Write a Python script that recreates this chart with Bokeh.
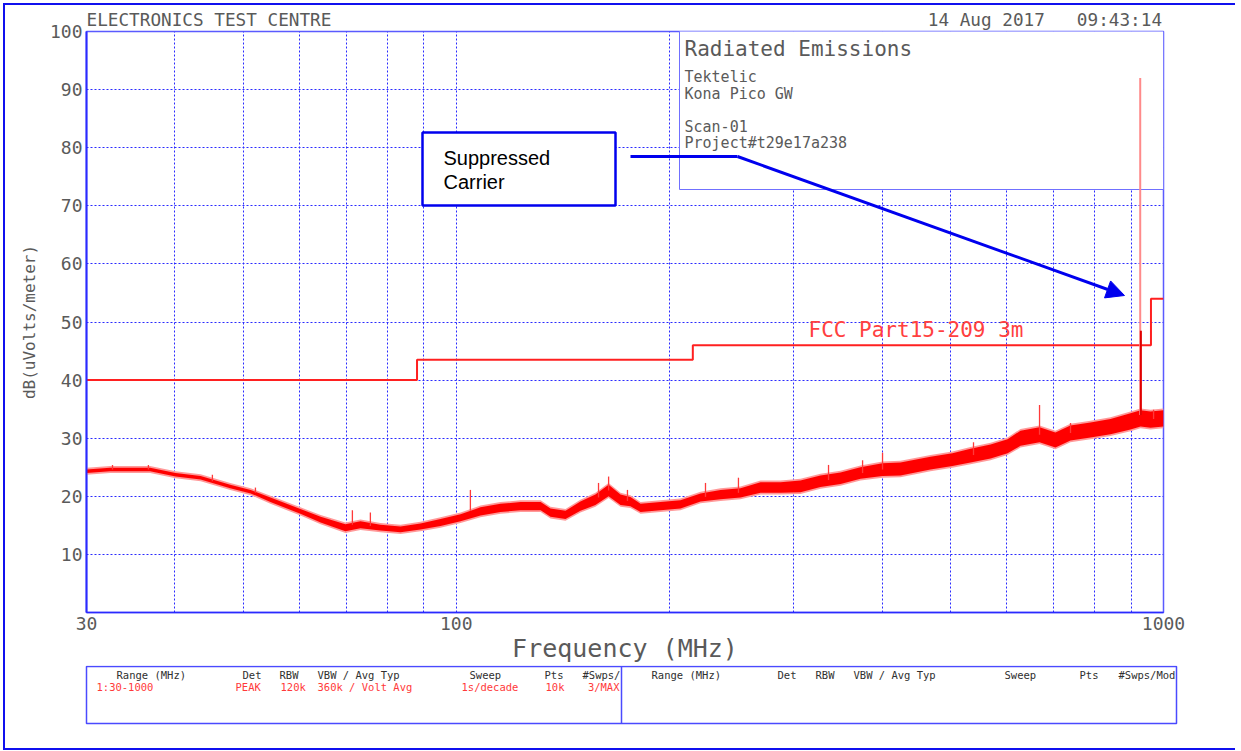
from bokeh.plotting import figure
from bokeh.layouts import column
from bokeh.models import (FixedTicker, Label, BoxAnnotation, Arrow, NormalHead,
                          Range1d, PrintfTickFormatter)
from bokeh.embed import file_html
from bokeh.resources import INLINE

# ---------------- data ----------------
trace_freq = [30, 32.4, 36.9, 40.1, 43.5, 47.9, 51.2, 54.6, 60.2, 64.3,
              69.7, 73.2, 78.1, 83.4, 89.0, 95.0, 101.4, 108.2, 115.5, 123.3,
              131.6, 135.9, 142.7, 149.8, 157.3, 164.2, 170.7, 176.3, 182.2, 194.4,
              207.5, 221.5, 236.4, 252.3, 269.3, 287.4, 306.7, 327.3, 349.4, 372.9,
              400.5, 424.7, 468.3, 503.0, 533.5, 569.5, 601.9, 627.8, 667.9, 703.4,
              738.6, 788.5, 841.6, 898.2, 928.0, 958.8, 1000]
trace_mid = [24.3, 24.6, 24.6, 23.7, 23.2, 21.7, 20.8, 19.4, 17.4, 16.0,
             14.6, 15.1, 14.6, 14.3, 14.8, 15.5, 16.3, 17.4, 18.0, 18.3,
             18.3, 17.2, 16.8, 18.3, 19.4, 21.0, 19.4, 19.1, 18.0, 18.3,
             18.6, 19.8, 20.3, 20.6, 21.5, 21.5, 21.7, 22.6, 23.1, 24.0,
             24.6, 24.7, 25.7, 26.3, 27.0, 27.7, 28.6, 30.0, 30.6, 29.7,
             30.9, 31.4, 32.0, 32.9, 33.4, 33.2, 33.4]
trace_spread = [0.6, 0.6, 0.6, 0.6, 0.6, 0.6, 0.6, 0.7, 0.7, 0.8,
                0.9, 0.9, 0.8, 0.8, 0.8, 0.9, 0.9, 1.0, 1.0, 1.0,
                1.0, 1.0, 1.0, 1.1, 1.2, 1.3, 1.2, 1.1, 1.0, 1.0,
                1.0, 1.0, 1.1, 1.1, 1.2, 1.2, 1.3, 1.3, 1.3, 1.3,
                1.4, 1.4, 1.4, 1.4, 1.5, 1.5, 1.5, 1.6, 1.6, 1.6,
                1.6, 1.6, 1.6, 1.7, 1.7, 1.7, 1.7]

# isolated noise peaks
spike_freq = [32.65, 36.7, 45.2, 52.0, 71.3, 75.6, 104.7, 158.9, 164.2, 174.6,
              225.1, 250.6, 336.0, 375.4, 400.6, 538.7, 667.9, 738.8, 968.2]
spike_base = [24.6, 24.6, 22.6, 20.6, 15.1, 14.9, 17.5, 19.8, 21.0, 19.2,
              19.9, 20.6, 22.8, 24.0, 24.6, 27.1, 30.6, 30.9, 33.3]
spike_peak = [25.4, 25.4, 23.7, 21.5, 17.6, 17.2, 21.1, 22.3, 23.4, 21.1,
              22.3, 23.2, 25.4, 26.2, 27.5, 29.3, 35.7, 32.6, 34.9]

carrier_freq = 927.0
carrier_base = 34.0
carrier_peak = 92.0
carrier_avg_peak = 48.5

limit_freq = [30, 88, 88, 216, 216, 960, 960, 1000]
limit_db = [40, 40, 43.5, 43.5, 46, 46, 54, 54]

x_major = [30, 100, 1000]
x_grid = [40, 50, 60, 70, 80, 90, 100, 200, 300, 400, 500, 600, 700, 800, 900]
y_ticks = [10, 20, 30, 40, 50, 60, 70, 80, 90, 100]

# ---------------- layout constants (page pixels) ----------------
OX, OY = 5, 5                 # content origin after css margin + border
MAIN_W, MAIN_H = 1230, 660
FL, FT, FW, FH = 86 - OX, 31 - OY, 1077, 582
BOT_H = 83

MONO = "DejaVu Sans Mono"
GRAY = "#5a5a5a"
BLUE = "#2a2aff"
NB = "\u00a0"

p = figure(width=MAIN_W, height=MAIN_H, x_axis_type="log",
           x_range=Range1d(30, 1000), y_range=Range1d(0, 100),
           output_backend="svg", toolbar_location=None,
           min_border_left=FL, min_border_top=FT,
           min_border_right=MAIN_W - FL - FW, min_border_bottom=MAIN_H - FT - FH)
p.background_fill_color = "white"
p.border_fill_color = "white"
p.outline_line_color = "#5a5aff"
p.outline_line_width = 1.5

# header line (title)
p.title.text = ("ELECTRONICS TEST CENTRE" + NB * 56 + "14 Aug 2017" + NB * 3 + "09:43:14")
p.title.align = "left"
p.title.offset = 0
p.title.standoff = 3
p.title.text_font = MONO
p.title.text_font_size = "17.7px"
p.title.text_font_style = "normal"
p.title.text_color = GRAY

p.xaxis.ticker = FixedTicker(ticks=x_major)
p.xaxis.formatter = PrintfTickFormatter(format="%d")
p.yaxis.ticker = FixedTicker(ticks=y_ticks)
for ax in (p.xaxis[0], p.yaxis[0]):
    ax.major_tick_line_color = None
    ax.minor_tick_line_color = None
    ax.major_tick_out = 0
    ax.major_tick_in = 0
    ax.minor_tick_out = 0
    ax.minor_tick_in = 0
    ax.axis_line_color = BLUE
    ax.major_label_text_font = MONO
    ax.major_label_text_font_size = "18px"
    ax.major_label_text_color = GRAY
    ax.axis_label_text_font = MONO
    ax.axis_label_text_font_style = "normal"
    ax.axis_label_text_color = GRAY
p.yaxis.axis_line_width = 2
p.xaxis.axis_line_width = 1.5
p.yaxis.major_label_standoff = 4
p.xaxis.major_label_standoff = 4
p.xaxis.axis_label = "Frequency (MHz)"
p.xaxis.axis_label_text_font_size = "25px"
p.xaxis.axis_label_standoff = 1
p.yaxis.axis_label = "dB(uVolts/meter)"
p.yaxis.axis_label_text_font_size = "16px"
p.yaxis.axis_label_standoff = 8

p.xgrid.ticker = FixedTicker(ticks=x_grid)
p.ygrid.ticker = FixedTicker(ticks=y_ticks[:-1])
for g in (p.xgrid[0], p.ygrid[0]):
    g.grid_line_color = BLUE
    g.grid_line_dash = "2 2"
    g.grid_line_width = 1


def sx(px):
    return px - 86


def sy(py):
    return 613 - py


def sbox(l, r, t, b, **kw):
    return BoxAnnotation(left=sx(l), right=sx(r), top=sy(t), bottom=sy(b),
                         left_units="screen", right_units="screen",
                         top_units="screen", bottom_units="screen", **kw)


# info box (covers grid, under the trace)
p.add_layout(sbox(679, 1163, 31, 190, fill_color="white", fill_alpha=1.0,
                  line_color="#7070ff", line_alpha=1.0, line_width=1,
                  level="underlay"))

# ---------------- data marks ----------------
outer_lo = [m - s for m, s in zip(trace_mid, trace_spread)]
outer_hi = [m + s for m, s in zip(trace_mid, trace_spread)]
inner_lo = [m - max(s - 0.3, 0.3) for m, s in zip(trace_mid, trace_spread)]
inner_hi = [m + max(s - 0.3, 0.3) for m, s in zip(trace_mid, trace_spread)]
p.varea(x=trace_freq, y1=outer_lo, y2=outer_hi, fill_color="#ff9a9a")
p.varea(x=trace_freq, y1=inner_lo, y2=inner_hi, fill_color="#ff0000")
p.segment(x0=spike_freq, y0=spike_base, x1=spike_freq, y1=spike_peak,
          line_color="#ff3a3a", line_width=1.3)

p.line(limit_freq, limit_db, line_color="#ff2020", line_width=2)

p.segment(x0=[carrier_freq], y0=[carrier_base], x1=[carrier_freq], y1=[carrier_peak],
          line_color="#ff8a8a", line_width=2)
p.segment(x0=[carrier_freq + 2], y0=[carrier_base], x1=[carrier_freq + 2],
          y1=[carrier_avg_peak], line_color="#e00000", line_width=2)


# ---------------- texts inside the frame ----------------
def lab(x, y, text, size, color=GRAY, font=MONO, align="left"):
    p.add_layout(Label(x=sx(x), y=sy(y), x_units="screen", y_units="screen",
                       text=text, text_font=font, text_font_size=size,
                       text_color=color, text_align=align,
                       text_baseline="middle"))


lab(684, 49, "Radiated Emissions", "21px")
lab(684, 77, "Tektelic", "15px")
lab(684, 94, "Kona Pico GW", "15px")
lab(684, 127, "Scan-01", "15px")
lab(684, 143, "Project#t29e17a238", "15px")

lab(808, 330, "FCC Part15-209 3m", "21px", color="#ff4040")

# Suppressed carrier call-out
p.add_layout(sbox(422, 615, 133, 206, fill_color="white", fill_alpha=1.0,
                  line_color="#0000ee", line_alpha=1.0, line_width=2.5))
lab(443, 158, "Suppressed", "20px", color="black", font="Liberation Sans")
lab(443, 182, "Carrier", "20px", color="black", font="Liberation Sans")
p.add_layout(Arrow(x_start=sx(630), y_start=sy(157), x_end=sx(737), y_end=sy(157),
                   start_units="screen", end_units="screen", end=None,
                   line_color="#0000ee", line_width=3))
p.add_layout(Arrow(x_start=sx(737), y_start=sy(157), x_end=sx(1124), y_end=sy(296),
                   start_units="screen", end_units="screen",
                   end=NormalHead(size=18, fill_color="#0000ee", line_color="#0000ee"),
                   line_color="#0000ee", line_width=3))

# ---------------- bottom settings table (own figure, page-pixel ranges) ----------------
b = figure(width=MAIN_W, height=BOT_H,
           output_backend="svg", toolbar_location=None,
           min_border=0, x_axis_location=None, y_axis_location=None)
try:
    p.frame_align = False
    b.frame_align = False
    XR = (OX, OX + MAIN_W)
except Exception:
    XR = (86, 1163)
b.x_range = Range1d(*XR)
b.y_range = Range1d(OY + MAIN_H + BOT_H, OY + MAIN_H)
b.title.text = ""
b.outline_line_color = None
b.xgrid.visible = False
b.ygrid.visible = False
b.background_fill_color = "white"
b.border_fill_color = "white"

b.add_layout(BoxAnnotation(left=86, right=1176, top=666, bottom=723,
                           fill_alpha=0, line_color="#4a4aff", line_alpha=1.0,
                           line_width=1.5))
b.add_layout(Arrow(x_start=621, y_start=666, x_end=621, y_end=723, end=None,
                   line_color="#4a4aff", line_width=1.5))


def tlab(x, y, text, color, align="left"):
    b.add_layout(Label(x=x, y=y, text=text, text_font=MONO, text_font_size="10.5px",
                       text_color=color, text_align=align, text_baseline="middle"))


hdr_y, row_y = 674, 686
for x, t in [(116, "Range (MHz)"), (242, "Det"), (279, "RBW"), (317, "VBW / Avg Typ"),
             (469, "Sweep"), (544, "Pts"), (582, "#Swps/"),
             (651, "Range (MHz)"), (777, "Det"), (815, "RBW"), (853, "VBW / Avg Typ"),
             (1004, "Sweep"), (1079, "Pts"), (1118, "#Swps/Mod")]:
    tlab(x, hdr_y, t, "#303030")
RED = "#ff3a3a"
for x, t in [(96, "1:30-1000"), (235, "PEAK"), (280, "120k"), (317, "360k / Volt Avg"),
             (461, "1s/decade"), (545, "10k")]:
    tlab(x, row_y, t, RED)
tlab(619, row_y, "3/MAX", RED, align="right")

page = column(p, b, spacing=0,
              styles={"margin-left": "3px", "margin-top": "3px",
                      "border-left": "2px solid #1010ee",
                      "border-top": "2px solid #1010ee",
                      "border-bottom": "2px solid #1010ee"})

open("out.html", "w").write(file_html(page, INLINE))
